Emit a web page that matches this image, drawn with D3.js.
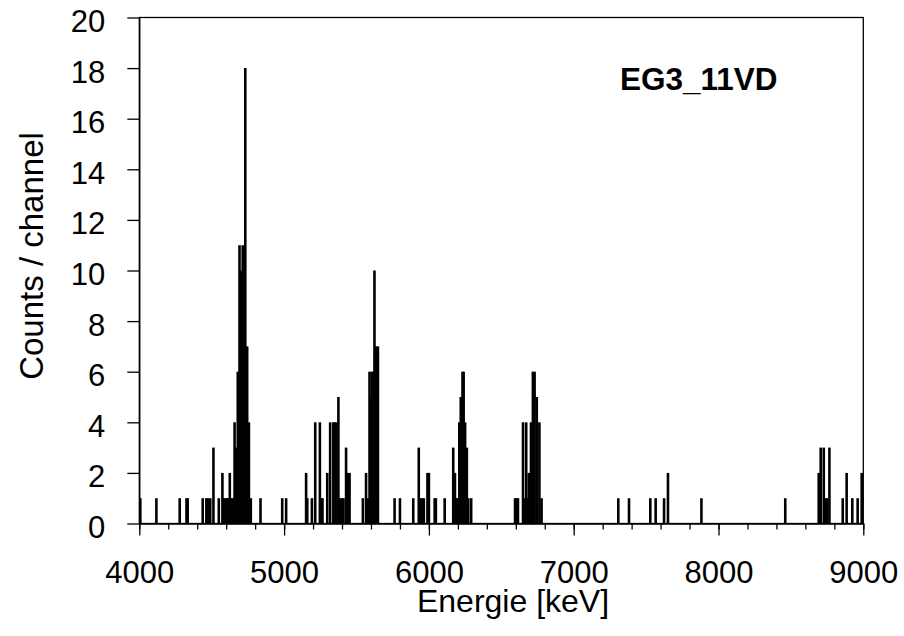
<!DOCTYPE html>
<html>
<head>
<meta charset="utf-8">
<script src="https://cdn.jsdelivr.net/npm/d3@7"></script>
<style>
  body { margin: 0; background: #fff; }
  svg text { font-family: "Liberation Sans", Arial, sans-serif; fill: #000; }
</style>
</head>
<body>
<script>
// channel energies (keV) and counts
var channelKeV = [4007, 4118, 4279, 4326, 4334, 4438, 4463, 4474, 4490, 4512,
  4549, 4574, 4585, 4598, 4608, 4617, 4625, 4635, 4645, 4658,
  4668, 4680, 4692, 4702, 4714, 4732, 4745, 4757, 4770, 4837,
  4987, 5014, 5152, 5160, 5192, 5215, 5247, 5256, 5265, 5298,
  5318, 5340, 5350, 5360, 5375, 5388, 5400, 5410, 5428, 5440,
  5452, 5544, 5566, 5578, 5590, 5598, 5606, 5614, 5624, 5636,
  5648, 5763, 5800, 5892, 5930, 5945, 5955, 5965, 5990, 6000,
  6040, 6048, 6109, 6168, 6180, 6190, 6200, 6210, 6220, 6232,
  6240, 6250, 6262, 6272, 6292, 6595, 6605, 6615, 6650, 6662,
  6672, 6682, 6690, 6705, 6718, 6730, 6745, 6763, 6778, 7308,
  7382, 7529, 7566, 7624, 7651, 7882, 8461, 8692, 8706, 8727,
  8740, 8750, 8766, 8858, 8885, 8924, 8961, 8989];
var counts = [1, 1, 1, 1, 1, 1, 1, 1, 1, 3,
  1, 2, 1, 1, 1, 1, 2, 1, 1, 4,
  3, 6, 11, 10, 11, 18, 7, 4, 1, 1,
  1, 1, 2, 1, 1, 4, 4, 1, 1, 2,
  4, 4, 4, 4, 5, 1, 1, 1, 3, 2,
  2, 1, 2, 1, 6, 5, 6, 6, 10, 7,
  7, 1, 1, 1, 3, 1, 1, 1, 2, 2,
  1, 1, 1, 3, 2, 1, 1, 4, 5, 6,
  6, 4, 3, 1, 1, 1, 1, 1, 4, 1,
  4, 1, 2, 4, 6, 6, 5, 4, 1, 1,
  1, 1, 1, 1, 2, 1, 1, 2, 3, 3,
  1, 1, 3, 1, 2, 1, 1, 2];

var xTicks = [4000, 5000, 6000, 7000, 8000, 9000];
var xMinorTicks = d3.range(4000, 9001, 200);
var yTicks = [0, 2, 4, 6, 8, 10, 12, 14, 16, 18, 20];
var label = "EG3_11VD";

var svg = d3.select("body").append("svg")
    .attr("width", 904)
    .attr("height", 636);

var plotLeft = 139.3, plotRight = 863.3, plotTop = 17.5, plotBottom = 523.5;

var x = d3.scaleLinear().domain([4000, 9000]).range([plotLeft, plotRight]);
var y = d3.scaleLinear().domain([0, 20]).range([plotBottom, plotTop]);

var data = channelKeV.map(function(e, i) { return {e: e, c: counts[i]}; });

// spectrum lines
svg.append("g")
  .selectAll("line")
  .data(data)
  .enter().append("line")
    .attr("x1", function(d) { return x(d.e); })
    .attr("x2", function(d) { return x(d.e); })
    .attr("y1", y(0))
    .attr("y2", function(d) { return y(d.c); })
    .attr("stroke", "#000")
    .attr("stroke-width", 2.6);

// frame
svg.append("rect")
    .attr("x", plotLeft)
    .attr("y", plotTop)
    .attr("width", plotRight - plotLeft)
    .attr("height", plotBottom - plotTop)
    .attr("fill", "none")
    .attr("stroke", "#000")
    .attr("stroke-width", 1.3);

// minor x ticks
svg.append("g")
    .attr("transform", "translate(0," + plotBottom + ")")
    .call(d3.axisBottom(x).tickValues(xMinorTicks).tickSize(6).tickFormat(""))
    .call(function(g) { g.select(".domain").remove(); })
    .selectAll("line").attr("stroke-width", 1.3);

var xAxis = svg.append("g")
    .attr("transform", "translate(0," + plotBottom + ")")
    .call(d3.axisBottom(x).tickValues(xTicks).tickSizeInner(12).tickSizeOuter(0)
      .tickPadding(25).tickFormat(d3.format("d")));
xAxis.select(".domain").attr("stroke-width", 1.5);
xAxis.selectAll("line").attr("stroke-width", 1.3);
xAxis.selectAll("text").style("font-size", "31px");

var yAxis = svg.append("g")
    .attr("transform", "translate(" + plotLeft + ",0)")
    .call(d3.axisLeft(y).tickValues(yTicks).tickSizeInner(12).tickSizeOuter(0).tickPadding(22));
yAxis.select(".domain").attr("stroke-width", 1.3);
yAxis.selectAll("line").attr("stroke-width", 1.3);
yAxis.selectAll("text").style("font-size", "31px").attr("dy", "0.45em");

// titles
svg.append("text")
    .attr("x", 513)
    .attr("y", 612)
    .attr("text-anchor", "middle")
    .style("font-size", "32px")
    .text("Energie [keV]");

svg.append("text")
    .attr("transform", "translate(43,256) rotate(-90)")
    .attr("text-anchor", "middle")
    .style("font-size", "33px")
    .text("Counts / channel");

svg.append("text")
    .attr("x", 620)
    .attr("y", 90)
    .style("font-size", "31.5px")
    .style("font-weight", "bold")
    .text(label);
</script>
</body>
</html>
